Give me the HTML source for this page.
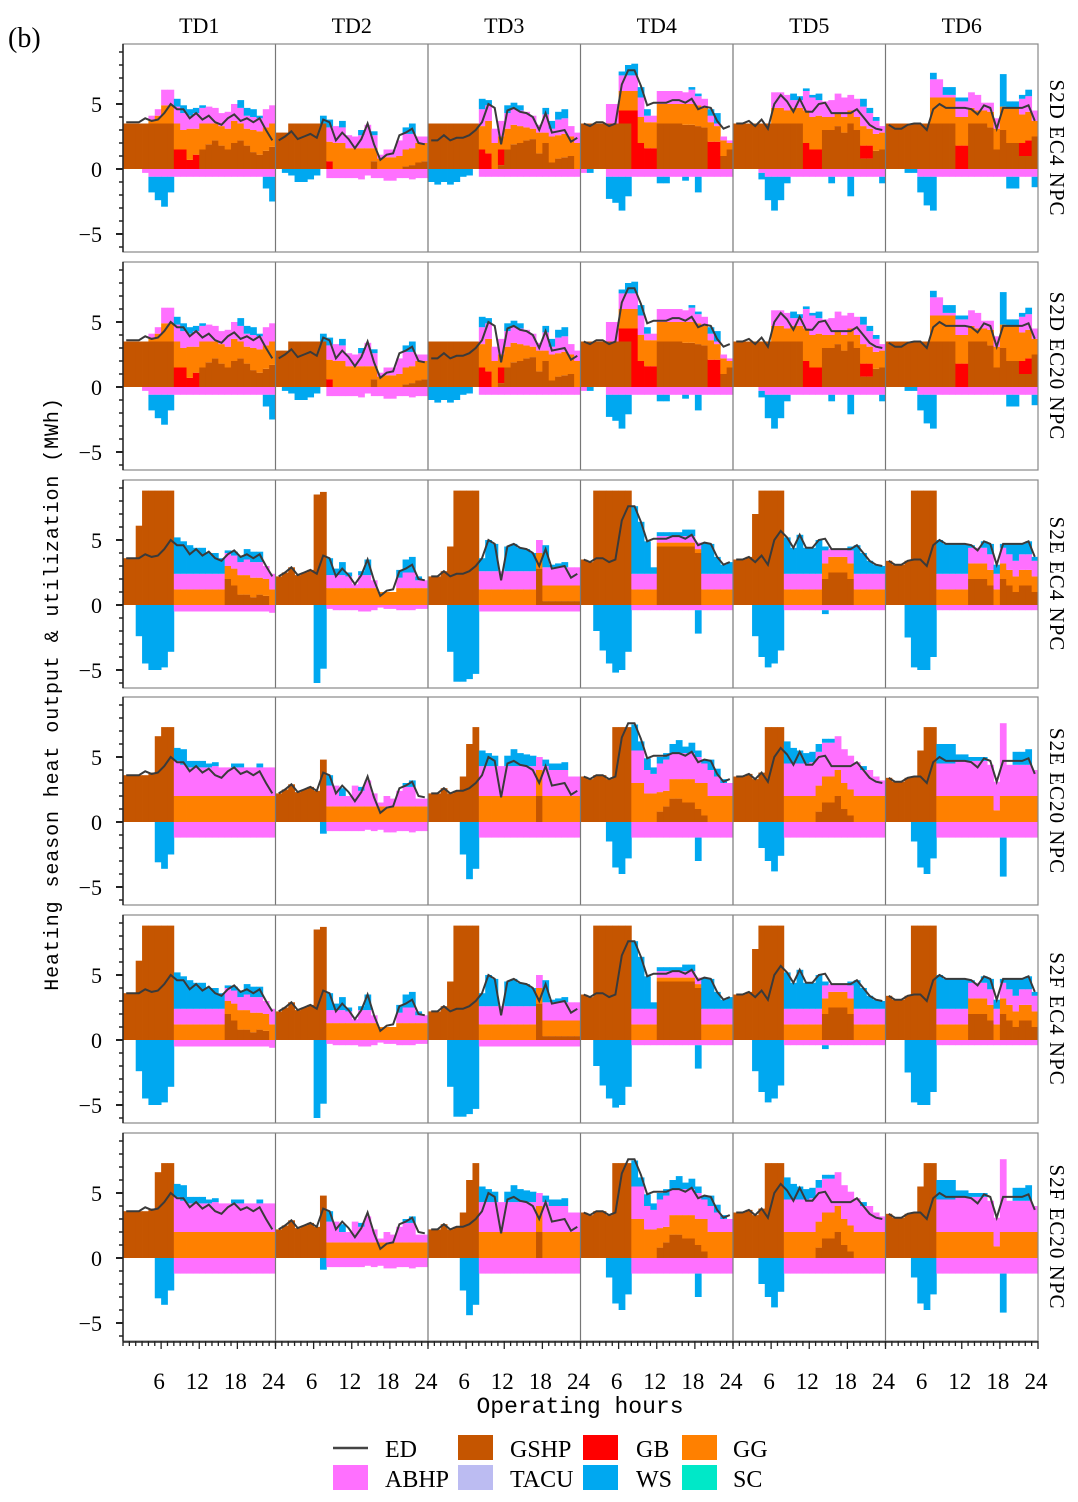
<!DOCTYPE html>
<html><head><meta charset="utf-8"><style>
body{margin:0;background:#fff;}
svg{display:block;font-family:"Liberation Serif","Noto Serif CJK SC",serif;}
</style></head><body>
<svg id="chart" width="1078" height="1502" viewBox="0 0 1078 1502" xmlns="http://www.w3.org/2000/svg">
<text x="8" y="47" font-size="28">(b)</text>
<text transform="translate(58,694) rotate(-90)" text-anchor="middle" font-size="20" letter-spacing="0.9" font-family="Liberation Mono, monospace">Heating season heat output &amp; utilization (MWh)</text>
<text x="580" y="1413" text-anchor="middle" font-size="23" font-family="Liberation Mono, monospace">Operating hours</text>
<g id="legend">
<g><line x1="333" y1="1448" x2="368" y2="1448" stroke="#444" stroke-width="2.5"/><text x="385" y="1457" font-size="24">ED</text></g>
<g><rect x="458" y="1435" width="35" height="25" fill="#c55500"/><text x="510" y="1457" font-size="24">GSHP</text></g>
<g><rect x="583" y="1435" width="35" height="25" fill="#ff0000"/><text x="636" y="1457" font-size="24">GB</text></g>
<g><rect x="682" y="1435" width="35" height="25" fill="#ff8000"/><text x="733" y="1457" font-size="24">GG</text></g>
<g><rect x="333" y="1465" width="35" height="25" fill="#ff70ff"/><text x="385" y="1487" font-size="24">ABHP</text></g>
<g><rect x="458" y="1465" width="35" height="25" fill="#bcbcf2"/><text x="510" y="1487" font-size="24">TACU</text></g>
<g><rect x="583" y="1465" width="35" height="25" fill="#00a8f0"/><text x="636" y="1487" font-size="24">WS</text></g>
<g><rect x="682" y="1465" width="35" height="25" fill="#00e8c8"/><text x="733" y="1487" font-size="24">SC</text></g>
</g>
</svg>
<script>
const tdLabels = ["TD1","TD2","TD3","TD4","TD5","TD6"];
const rowLabels = ["S2D EC4 NPC","S2D EC20 NPC","S2E EC4 NPC","S2E EC20 NPC","S2F EC4 NPC","S2F EC20 NPC"];
const rowTypes = ["A","A","B","C","B","C"];
const yTicks = [-5,0,5];
const xTicks = [6,12,18,24];
const ED = [
[3.6,3.6,3.6,3.9,3.7,3.8,4.3,5.0,4.6,4.6,3.9,4.3,3.8,4.1,3.6,3.4,3.9,4.2,3.7,3.9,3.6,3.9,3.0,2.2],
[2.2,2.5,2.9,2.3,2.5,2.7,2.4,3.8,3.6,2.2,2.8,2.3,1.6,2.3,3.5,1.9,0.7,1.1,1.2,2.6,2.8,3.1,2.0,1.9],
[2.2,2.2,2.6,2.2,2.4,2.4,2.6,3.0,3.6,5.0,4.7,1.9,4.5,4.7,4.4,4.3,4.0,3.0,4.3,2.8,2.9,3.0,2.1,2.4],
[3.5,3.3,3.6,3.6,3.3,3.5,6.5,7.6,7.6,6.4,4.9,5.1,5.1,5.1,5.3,5.3,5.1,5.4,4.6,4.8,4.7,3.7,3.1,3.3],
[3.5,3.5,3.7,3.3,3.8,3.1,5.0,5.7,5.2,4.4,5.4,4.4,4.4,5.0,5.1,4.3,4.3,4.3,4.3,4.6,4.0,3.4,3.1,3.0],
[3.4,3.1,3.1,3.4,3.5,3.5,3.0,4.6,5.0,4.7,4.7,4.7,4.7,4.6,4.2,4.9,4.7,3.1,4.7,4.7,4.7,4.7,4.9,3.7]];

const A_gshp = [
[3.5,3.5,3.5,3.5,3.5,3.5,3.5,3.5,0,0,0,0,1.5,1.9,2.2,1.8,1.5,2.0,2.2,1.8,1.3,1.1,1.4,1.7],
[2.8,2.8,3.5,3.5,3.5,3.5,3.5,3.5,0,0,0,0,0,0,0,0.6,0,0,0,0,0.2,0.3,0.5,0.6],
[3.5,3.5,3.5,3.5,3.5,3.5,3.5,3.5,0,0,0,0.3,1.5,1.9,2.0,2.2,2.3,1.2,2.0,0.5,0.8,0.9,1.0,0],
[3.5,3.5,3.5,3.5,3.5,3.5,3.5,3.5,0,0,0,0,3.5,3.5,3.5,3.5,3.4,3.4,3.3,3.2,0,0,1.0,1.5],
[3.5,3.5,3.5,3.5,3.5,3.5,3.5,3.5,3.5,3.5,3.5,0,0,0,3.0,3.0,3.3,2.8,3.5,3.0,0.8,0.8,1.4,1.5],
[3.5,3.5,3.5,3.5,3.5,3.5,3.5,3.5,3.5,3.5,3.5,0,0,3.5,3.5,3.5,3.2,1.5,3.0,2.0,2.0,1.0,1.0,2.5]];
const A_gb = [
[0,0,0,0,0,0,0,0,1.5,1.5,0.7,1.1,0,0,0,0,0,0,0,0,0,0,0,0],
[0,0,0,0,0,0,0,0,0.6,0,0,0,0,0,0,0,0,0,0,0,0,0,0,0],
[0,0,0,0,0,0,0,0,1.5,1.2,0,1.2,0,0,0,0,0,0,0,0,0,0,0,0],
[0,0,0,0,0,0,1.0,1.0,4.5,2.0,1.6,1.6,0,0,0,0,0,0,0,0,2.1,2.1,0,0],
[0,0,0,0,0,0,0,0,0,0,0,2.0,1.5,1.5,0,0,0,0,0,0,1.0,1.0,0,0],
[0,0,0,0,0,0,0,0,0,0,0,1.8,1.8,0,0,0,0,0,0,0,0,1.0,1.2,0]];
const A_gg = [
[0,0,0,0,0.3,0.6,1.4,1.4,2.0,1.5,2.4,2.0,2.0,1.6,1.3,1.5,1.6,1.7,1.3,1.3,1.7,1.8,1.8,1.8],
[0,0,0,0,0,0,0,0,1.5,2.0,2.0,1.6,1.6,1.6,1.6,1.0,0.8,0.9,0.9,1.0,1.3,1.3,1.5,1.4],
[0,0,0,0,0,0,0,0,1.8,2.5,2.0,1.0,1.6,1.5,1.3,1.0,0.8,1.6,0.8,2.0,1.8,1.8,1.5,2.0],
[0,0,0,0,0,0,1.5,1.5,1.5,2.0,2.0,2.0,1.5,1.5,1.5,1.5,1.6,1.6,1.6,1.5,1.5,1.2,1.2,0.5],
[0,0,0,0,0,0,1.2,1.2,1.0,1.2,1.2,2.5,2.5,2.6,1.0,1.0,1.0,1.2,1.0,1.0,1.5,1.3,1.3,1.3],
[0,0,0,0,0,0,0,2.0,2.0,2.0,2.0,2.2,2.2,1.2,1.0,1.0,1.2,1.6,1.8,2.7,2.7,2.2,2.2,1.2]];
const A_abhp = [
[0,0,0,0,0.3,0.5,1.2,1.2,1.3,1.3,1.0,1.2,1.2,1.3,1.2,1.0,1.3,1.3,1.2,1.0,1.0,1.0,1.4,1.4],
[0,0,0,0,0,0,0,0,1.1,1.3,1.2,1.0,0.9,1.0,1.8,1.0,0.3,0.6,0.6,1.2,1.2,1.1,0.5,0.5],
[0,0,0,0,0,0,0,0,1.3,1.2,1.1,1.2,1.2,1.2,1.2,1.2,1.0,0.6,1.4,0.6,1.2,1.2,0.8,0.8],
[0,0,0,0,1.5,1.5,1.2,1.2,1.2,1.5,0.5,0.5,1.0,1.0,1.0,1.0,0.9,1.1,0.7,0.7,0.5,0.2,0.3,0.2],
[0,0,0,0,0,0,1.2,1.2,1.2,0.6,0.6,1.5,1.5,1.2,1.2,1.3,1.5,1.5,1.2,1.4,1.5,1.2,1.0,0.5],
[0,0,0,0,0,0,0,1.4,1.4,0.2,0.2,1.2,1.2,1.2,1.2,0.6,0.7,0.8,0,0,0,1.2,1.2,0.8]];
const A_ws = [
[0,0,0,0,0,0,0,0,0.6,0.6,0.5,0.4,0.2,0,0,0,0,0,0.6,0.6,0.6,0.2,0,0],
[0,0,0,0,0,0,0,0.6,0.6,0,0.5,0,0,0.4,0,0.3,0,0,0,0,0.5,0.8,0,0],
[0,0,0,0,0,0,0,0,0.8,0.4,0,0,0.6,0.5,0.4,0,0,0,0.5,0.6,0.6,0.7,0,0],
[0,0,0,0,0,0,0.3,0.8,0.9,0.8,0.5,0,0,0,0,0,0,0.2,0.2,0,0.5,0.8,0,0],
[0,0,0,0,0,0,0,0,0,0.5,0.3,0.2,0.2,0.5,0,0,0,0,0,0,0.6,0.4,0.3,0],
[0,0,0,0,0,0,0,0.5,0,0.6,0.6,0.3,0.3,0,0,0,0,0,2.5,0.5,0.5,0.3,0.5,0]];
const A_abhpN = [
[0,0,0,0.3,0.6,0.6,0.6,0.6,0.6,0.6,0.6,0.6,0.6,0.6,0.6,0.6,0.6,0.6,0.6,0.6,0.6,0.6,0.6,0.6],
[0,0,0,0,0,0,0,0,0.7,0.7,0.7,0.7,0.7,0.8,0.5,0.7,0.7,0.9,0.9,0.7,0.7,0.8,0.7,0.7],
[0,0,0,0,0,0,0,0,0.6,0.6,0.6,0.6,0.6,0.6,0.6,0.6,0.6,0.6,0.6,0.6,0.6,0.6,0.6,0.6],
[0.3,0,0,0,0.6,0.6,0.6,0.6,0.6,0.6,0.6,0.6,0.6,0.6,0.6,0.6,0.6,0.6,0.6,0.6,0.6,0.6,0.6,0.6],
[0,0,0,0,0.3,0.6,0.6,0.6,0.6,0.6,0.6,0.6,0.6,0.6,0.6,0.6,0.6,0.6,0.6,0.6,0.6,0.6,0.6,0.6],
[0,0,0,0,0,0.6,0.6,0.6,0.6,0.6,0.6,0.6,0.6,0.6,0.6,0.6,0.6,0.6,0.6,0.6,0.6,0.6,0.6,0.6]];
const A_wsN = [
[0,0,0,0,1.2,1.8,2.3,1.2,0,0,0,0,0,0,0,0,0,0,0,0,0,0,0.9,1.9],
[0,0.3,0.5,1.0,1.0,0.8,0.5,0,0,0,0,0,0,0,0,0,0,0,0,0,0,0,0,0],
[1.0,1.2,1.0,1.2,1.0,0.6,0.5,0,0,0,0,0,0,0,0,0,0,0,0,0,0,0,0,0],
[0,0.3,0,0,1.7,2.0,2.6,1.5,0,0,0,0,0.5,0.5,0,0,0.3,0,1.2,0,0,0,0,0],
[0,0,0,0,0.5,1.8,2.6,1.8,0.5,0,0,0,0,0,0,0.5,0,0,1.5,0,0,0,0,0.5],
[0,0,0,0.3,0.3,1.2,2.2,2.6,0,0,0,0,0,0,0,0,0,0,0,0.9,0.9,0,0,0.8]];

const B_gshp = [
[3.6,3.6,6.1,8.8,8.8,8.8,8.8,8.8,0,0,0,0,0,0,0,0,2.0,1.5,0.8,0.8,0.6,0.8,0.7,0],
[2.2,2.5,2.9,2.3,2.5,2.7,8.5,8.7,0,0,0,0,0,0,0,0,0,0,0,0,0,0,0,0],
[2.2,2.2,2.6,4.5,8.8,8.8,8.8,8.8,0,0,0,0,0,0,0,0,0,2.8,0.3,0.3,0.3,0.3,0.3,0.3],
[3.5,3.3,8.8,8.8,8.8,8.8,8.8,8.8,0,0,0,0,4.5,4.5,4.5,4.5,4.5,4.5,4.0,0,0,0,0,0],
[3.5,3.5,3.7,7.0,8.8,8.8,8.8,8.8,0,0,0,0,0,0,2.0,2.5,2.5,2.5,2.0,0,0,0,0,0],
[3.4,3.1,3.1,3.4,8.8,8.8,8.8,8.8,0,0,0,0,0,2.0,2.0,2.0,1.5,0,2.0,1.5,1.0,1.5,1.5,1.0]];
const B_gg = [
[0,0,0,0,0,0,0,0,1.2,1.2,1.2,1.2,1.2,1.2,1.2,1.2,1.0,1.3,1.5,1.5,1.5,1.3,1.3,1.2],
[0,0,0,0,0,0,0,0,1.3,1.3,1.3,1.3,1.3,1.3,1.3,1.3,1.0,1.0,1.0,1.3,1.3,1.3,1.3,1.3],
[0,0,0,0,0,0,0,0,1.2,1.2,1.2,1.2,1.2,1.2,1.2,1.2,1.2,1.2,1.2,1.2,1.2,1.2,1.2,1.2],
[0,0,0,0,0,0,0,0,1.2,1.2,1.2,1.2,0.3,0.3,0.3,0.3,0.3,0.3,0.3,1.2,1.2,1.2,1.2,1.2],
[0,0,0,0,0,0,0,0,1.2,1.2,1.2,1.2,1.2,1.2,1.2,1.2,1.2,1.2,1.2,1.2,1.2,1.2,1.2,1.2],
[0,0,0,0,0,0,0,0,1.2,1.2,1.2,1.2,1.2,1.2,1.2,1.2,1.2,1.2,1.2,1.2,1.2,1.2,1.2,1.2]];
const B_abhp = [
[0,0,0,0,0,0,0,0,1.2,1.2,1.2,1.2,1.2,1.2,1.2,1.2,1.0,1.0,1.0,1.2,1.2,1.2,1.0,1.2],
[0,0,0,0,0,0,0,0,1.0,1.0,1.0,0.9,0.3,1.0,1.0,0.6,0,0,0,0.8,1.2,1.2,0.6,0.6],
[0,0,0,0,0,0,0,0,1.4,1.4,1.4,1.4,1.4,1.4,1.4,1.4,1.4,1.0,1.4,1.4,1.4,1.4,1.4,1.4],
[0,0,0,0,0,0,0,0,1.2,1.2,1.2,1.2,0.5,0.5,0.5,0.5,0.5,0.5,0.5,1.2,1.2,1.2,1.2,1.2],
[0,0,0,0,0,0,0,0,1.2,1.2,1.2,1.2,1.2,1.2,1.0,0.6,0.6,0.6,1.0,1.2,1.2,1.2,1.2,1.2],
[0,0,0,0,0,0,0,0,1.2,1.2,1.2,1.2,1.2,1.2,1.2,1.2,1.2,1.2,1.2,1.2,1.2,1.2,1.2,1.2]];
const B_ws = [
[0,0,0,0,0,0,0,0,2.8,2.5,2.2,2.0,2.0,1.6,1.6,1.2,0.2,0.3,0.5,0.8,0.8,0.8,0,0],
[0,0,0,0,0,0,0,0,1.3,0.5,1.0,0.3,0,0.3,1.2,0,0,0,0,0.6,1.0,1.2,0.3,0],
[0,0,0,0,0,0,0,0,1.0,2.4,2.1,0,1.9,2.1,1.8,1.7,1.4,0,1.7,0.2,0.3,0.4,0,0],
[0,0,0,0,0,0,0,0,5.2,4.0,2.5,0.5,0.3,0.3,0.3,0.3,0.5,0.5,0,2.4,2.3,1.3,0.7,0.9],
[0,0,0,0,0,0,0,0,2.8,2.0,3.0,2.0,2.0,2.6,0.3,0,0,0,0.3,2.2,1.6,1.0,0.7,0.6],
[0,0,0,0,0,0,0,0,2.6,2.3,2.3,2.3,2.3,0.2,0,0.5,0.8,0.7,0.3,0.8,1.3,0.8,1.0,0.3]];
const B_abhpN = [
[0,0,0,0,0,0,0,0,0.5,0.5,0.5,0.5,0.5,0.5,0.5,0.5,0.5,0.5,0.5,0.5,0.5,0.5,0.5,0.6],
[0,0,0,0,0,0,0,0,0.3,0.4,0.4,0.4,0.4,0.5,0.5,0.4,0.2,0.3,0.3,0.4,0.4,0.4,0.3,0.3],
[0,0,0,0,0,0,0,0,0.5,0.5,0.5,0.5,0.5,0.5,0.5,0.5,0.5,0.5,0.5,0.5,0.5,0.5,0.5,0.5],
[0,0,0,0,0,0,0,0,0.4,0.4,0.4,0.4,0.4,0.4,0.4,0.4,0.4,0.4,0.4,0.4,0.4,0.4,0.4,0.4],
[0,0,0,0,0,0,0,0,0.4,0.4,0.4,0.4,0.4,0.4,0.4,0.4,0.4,0.4,0.4,0.4,0.4,0.4,0.4,0.4],
[0,0,0,0,0,0,0,0,0.4,0.4,0.4,0.4,0.4,0.4,0.4,0.4,0.4,0.4,0.4,0.4,0.4,0.4,0.4,0.4]];
const B_wsN = [
[0,0,2.4,4.5,5.0,5.0,4.8,3.6,0,0,0,0,0,0,0,0,0,0,0,0,0,0,0,0],
[0,0,0,0,0,0,6.0,4.9,0,0,0,0,0,0,0,0,0,0,0,0,0,0,0,0],
[0,0,0,3.6,5.9,5.9,5.7,5.3,0,0,0,0,0,0,0,0,0,0,0,0,0,0,0,0],
[0,0,2.0,3.5,4.5,5.2,5.0,3.6,0,0,0,0,0,0,0,0,0,0,1.8,0,0,0,0,0],
[0,0,0,2.4,4.0,4.8,4.5,3.5,0,0,0,0,0,0,0.3,0,0,0,0,0,0,0,0,0],
[0,0,0,2.5,4.8,5.0,5.0,4.0,0,0,0,0,0,0,0,0,0,0,0,0,0,0,0,0]];

const C_gshp = [
[3.6,3.6,3.6,3.6,3.8,6.6,7.3,7.3,0,0,0,0,0,0,0,0,0,0,0,0,0,0,0,0],
[2.2,2.5,2.9,2.3,2.5,2.7,2.4,4.8,0,0,0,0,0,0,0,0,0,0,0,0,0,0,0,0],
[2.2,2.2,2.6,2.2,2.4,3.5,6.0,7.3,0,0,0,0,0,0,0,0,0,2.0,0,0,0,0,0,0],
[3.5,3.3,3.6,3.6,3.3,7.3,7.3,7.3,0,0,0,0,0.8,1.2,1.8,1.8,1.5,1.5,1.0,0.5,0,0,0,0],
[3.5,3.5,3.7,3.3,3.8,7.3,7.3,7.3,0,0,0,0,0,0.8,1.5,1.5,2.0,1.0,0.5,0,0,0,0,0],
[3.4,3.1,3.1,3.4,3.5,5.5,7.3,7.3,0,0,0,0,0,0,0,0,0,0,0,0,0,0,0,0]];
const C_gg = [
[0,0,0,0,0,0,0,0,2.0,2.0,2.0,2.0,2.0,2.0,2.0,2.0,2.0,2.0,2.0,2.0,2.0,2.0,2.0,2.0],
[0,0,0,0,0,0,0,0,1.2,1.2,1.2,1.2,1.2,1.2,1.2,1.2,1.2,1.2,1.2,1.2,1.2,1.2,1.2,1.2],
[0,0,0,0,0,0,0,0,2.0,2.0,2.0,2.0,2.0,2.0,2.0,2.0,2.0,2.0,2.0,2.0,2.0,2.0,2.0,2.0],
[0,0,0,0,0,0,0,0,3.0,3.0,2.2,2.2,1.5,1.2,1.5,1.5,1.8,1.8,2.0,2.5,2.0,2.0,2.0,2.0],
[0,0,0,0,0,0,0,0,2.0,2.0,2.0,2.0,2.0,2.0,2.0,2.0,2.0,2.0,2.0,2.0,2.0,2.0,2.0,2.0],
[0,0,0,0,0,0,0,0,2.0,2.0,2.0,2.0,2.0,2.0,2.0,2.0,2.0,0.9,2.0,2.0,2.0,2.0,2.0,2.0]];
const C_abhp = [
[0,0,0,0,0,0,0,0,2.7,2.4,2.2,2.2,2.2,2.2,2.3,2.2,2.2,2.2,2.2,2.2,2.2,2.2,2.2,2.2],
[0,0,0,0,0,0,0,0,1.6,1.6,0.8,0.8,1.6,1.2,2.0,1.0,0.3,0.8,0.6,1.2,1.5,1.5,0.6,0.6],
[0,0,0,0,0,0,0,0,2.3,2.3,2.3,2.3,2.3,2.3,2.3,2.3,2.3,1.0,2.3,2.0,2.0,2.0,1.5,1.5],
[0,0,0,0,0,0,0,0,2.5,2.5,1.8,1.5,2.2,2.4,2.0,2.0,2.0,2.0,2.0,1.5,2.0,1.5,1.0,1.0],
[0,0,0,0,0,0,0,0,2.5,2.5,2.5,2.5,2.6,2.6,2.6,2.6,2.6,2.6,2.6,2.6,2.0,2.0,1.5,1.2],
[0,0,0,0,0,0,0,0,2.5,2.5,2.5,2.7,2.7,2.7,2.7,2.7,2.4,2.2,5.6,2.4,2.4,2.4,2.4,2.0]];
const C_ws = [
[0,0,0,0,0,0,0,0,1.0,1.2,0.5,0.5,0.5,0.3,0.3,0,0,0.3,0.3,0,0,0.3,0,0],
[0,0,0,0,0,0,0,0,0.8,0,0.6,0,0,0.3,0,0,0,0,0,0,0.3,0.5,0,0],
[0,0,0,0,0,0,0,0,1.2,1.0,0.8,0,0.8,1.3,1.0,0.9,0.8,0,0.5,0.5,0.5,0.6,0,0],
[0,0,0,0,0,0,0,0,2.0,0.7,0.9,0.5,0.5,0.5,0.7,1.0,0.5,0.8,0.5,0.3,0.8,0.6,0.3,0],
[0,0,0,0,0,0,0,0,1.7,1.2,1.0,0.8,0.8,0.6,0.3,0.3,0,0,0,0,0.3,0,0,0],
[0,0,0,0,0,0,0,0,1.5,1.5,1.5,0.5,0.5,0.3,0.3,0.3,0,0,0,0,1.0,1.0,1.2,0]];
const C_abhpN = [
[0,0,0,0,0,0,0,0,1.2,1.2,1.2,1.2,1.2,1.2,1.2,1.2,1.2,1.2,1.2,1.2,1.2,1.2,1.2,1.2],
[0,0,0,0,0,0,0,0,0.7,0.7,0.7,0.7,0.7,0.7,0.6,0.7,0.6,0.8,0.8,0.7,0.7,0.8,0.7,0.7],
[0,0,0,0,0,0,0,0,1.2,1.2,1.2,1.2,1.2,1.2,1.2,1.2,1.2,1.2,1.2,1.2,1.2,1.2,1.2,1.2],
[0,0,0,0,0,0,0,0,1.2,1.2,1.2,1.2,1.2,1.2,1.2,1.2,1.2,1.2,1.2,1.2,1.2,1.2,1.2,1.2],
[0,0,0,0,0,0,0,0,1.2,1.2,1.2,1.2,1.2,1.2,1.2,1.2,1.2,1.2,1.2,1.2,1.2,1.2,1.2,1.2],
[0,0,0,0,0,0,0,0,1.2,1.2,1.2,1.2,1.2,1.2,1.2,1.2,1.2,1.2,1.2,1.2,1.2,1.2,1.2,1.2]];
const C_wsN = [
[0,0,0,0,0,3.1,3.6,2.5,0,0,0,0,0,0,0,0,0,0,0,0,0,0,0,0],
[0,0,0,0,0,0,0,0.9,0,0,0,0,0,0,0,0,0,0,0,0,0,0,0,0],
[0,0,0,0,0,2.5,4.4,3.6,0,0,0,0,0,0,0,0,0,0,0,0,0,0,0,0],
[0,0,0,0,1.5,3.5,4.0,2.8,0,0,0,0,0,0,0,0,0,0,1.8,0,0,0,0,0],
[0,0,0,0,2.0,3.0,3.8,2.6,0,0,0,0,0,0,0,0,0,0,0,0,0,0,0,0],
[0,0,0,0,1.5,3.5,4.0,2.8,0,0,0,0,0,0,0,0,0,0,3.0,0,0,0,0,0]];

const typeData = {
  A:{gshp:A_gshp,gb:A_gb,gg:A_gg,abhp:A_abhp,ws:A_ws,abhpN:A_abhpN,wsN:A_wsN},
  B:{gshp:B_gshp,gb:null,gg:B_gg,abhp:B_abhp,ws:B_ws,abhpN:B_abhpN,wsN:B_wsN},
  C:{gshp:C_gshp,gb:null,gg:C_gg,abhp:C_abhp,ws:C_ws,abhpN:C_abhpN,wsN:C_wsN}};

const NS="http://www.w3.org/2000/svg";
const svg=document.getElementById('chart');
const X0=123, X1=1038, colW=(X1-X0)/6, bw=colW/24, unit=13;
const rowTop=[44,262,480,697,915,1133], rowH=208, zeroOff=125;
const COL={gshp:"#c55500",gb:"#ff0000",gg:"#ff8000",abhp:"#ff70ff",ws:"#00a8f0"};
function xPos(td,h){return X0+td*colW+h*bw;}
function yPos(r,v){return rowTop[r]+zeroOff-v*unit;}
function mk(tag,attrs,parent){const e=document.createElementNS(NS,tag);for(const k in attrs)e.setAttribute(k,attrs[k]);(parent||svg).appendChild(e);return e;}
function val(a,t,h){return a?(a[t][h]||0):0;}

for(let r=0;r<6;r++){
  const d=typeData[rowTypes[r]];
  const g=mk('g',{});
  
  
  const clip=mk('clipPath',{id:'clip'+r},g);
  mk('rect',{x:X0,y:rowTop[r],width:X1-X0,height:rowH},clip);
  const bars=mk('g',{'clip-path':'url(#clip'+r+')'},g);
  for(let t=0;t<6;t++){
    for(let h=0;h<24;h++){
      let base=0;
      for(const s of ['gshp','gb','gg','abhp','ws']){
        const v=val(d[s],t,h);
        if(v>0){
          const rc=mk('rect',{x:xPos(t,h),y:yPos(r,base+v),width:bw+0.4,height:v*unit,fill:COL[s]},bars);
          
          
          base+=v;
        }
      }
      let nb=0;
      for(const s of ['abhpN','wsN']){
        const v=val(d[s],t,h);
        if(v>0){
          const rc=mk('rect',{x:xPos(t,h),y:yPos(r,nb),width:bw+0.4,height:v*unit,fill:s==='abhpN'?COL.abhp:COL.ws},bars);
          
          
          nb-=v;
        }
      }
    }
    const pts=ED[t].map((v,h)=>(xPos(t,h)+bw/2).toFixed(1)+','+yPos(r,v).toFixed(1)).join(' ');
    const pl=mk('polyline',{points:pts,fill:'none',stroke:'#3a3a3a','stroke-width':2},bars);
    
    
    if(t>0){mk('line',{x1:X0+t*colW,y1:rowTop[r],x2:X0+t*colW,y2:rowTop[r]+rowH,stroke:'#777','stroke-width':1.2},g);}
  }
  const fr=mk('rect',{x:X0,y:rowTop[r],width:X1-X0,height:rowH,fill:'none',stroke:'#888','stroke-width':1.2},g);
  
  
  mk('line',{x1:X0,y1:rowTop[r],x2:X0,y2:rowTop[r]+rowH,stroke:'#222','stroke-width':1.5},g);
  for(let v=-6;v<=9;v++){
    const maj=yTicks.includes(v);
    mk('line',{x1:X0-(maj?7:4),y1:yPos(r,v),x2:X0,y2:yPos(r,v),stroke:'#222','stroke-width':maj?2:1.5},g);
  }
  for(const v of yTicks){
    const tx=mk('text',{x:102,y:yPos(r,v)+8,'text-anchor':'end','font-size':22},g);
    tx.textContent=v===-5?'\u22125':String(v);
    
    
  }
  const rl=mk('text',{transform:'translate(1050,'+(rowTop[r]+rowH/2)+') rotate(90)','text-anchor':'middle','font-size':21,'letter-spacing':'1'},g);
  rl.textContent=rowLabels[r];
  
  
}
for(let t=0;t<6;t++){
  const tl=mk('text',{x:X0+t*colW+colW/2,y:33,'text-anchor':'middle','font-size':22});
  tl.textContent=tdLabels[t];
  
  
  const yb=rowTop[5]+rowH;
  for(let h=0;h<=24;h++){
    const maj=xTicks.includes(h);
    mk('line',{x1:X0+t*colW+h*bw,y1:yb,x2:X0+t*colW+h*bw,y2:yb+(maj?8:5),stroke:'#222','stroke-width':1.3});
  }
  for(const h of xTicks){
    const xl=mk('text',{x:X0+t*colW+h*bw-2,y:1389,'text-anchor':'middle','font-size':23});
    xl.textContent=String(h);
    
    
  }
}
mk('line',{x1:X0,y1:1342,x2:X1,y2:1342,stroke:'#222','stroke-width':1.5});
</script>
</body></html>
